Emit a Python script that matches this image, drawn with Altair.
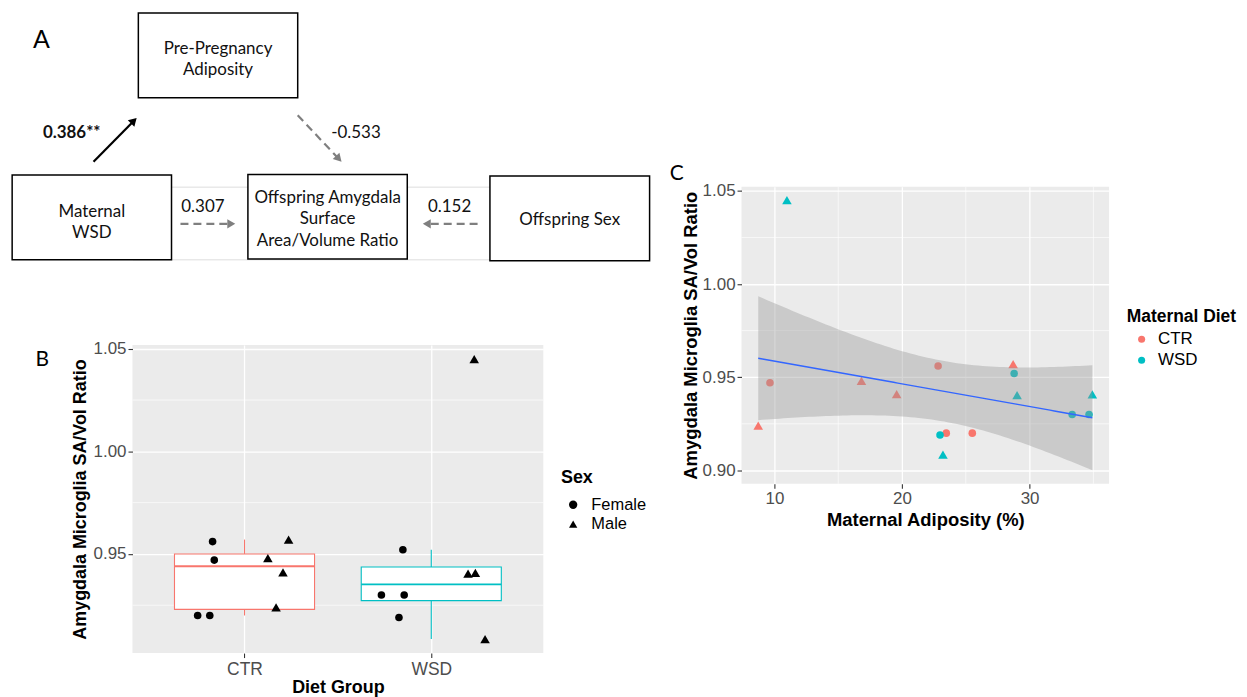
import math
import numpy as np
import pandas as pd
import altair as alt

# ------------------------------------------------------------------
# Values
# ------------------------------------------------------------------
diet_groups = ["CTR", "WSD"]
diet_colors = ["#F8766D", "#00BFC4"]
sexes = ["Female", "Male"]
sex_shapes = ["circle", "triangle-up"]
sex_point_sizes = [58, 92]

animal_diet = ["CTR"] * 8 + ["WSD"] * 8
animal_sex = (["Female"] * 4 + ["Male"] * 4) * 2
maternal_adiposity = [9.65, 22.83, 23.47, 25.51, 8.73, 16.82, 19.58, 28.71,
                      22.98, 28.79, 33.34, 34.66, 10.98, 23.21, 29.02, 34.92]
sa_vol_ratio = [0.947, 0.956, 0.920, 0.920, 0.924, 0.948, 0.941, 0.957,
                0.919, 0.952, 0.930, 0.930, 1.045, 0.9085, 0.9404, 0.9408]
# horizontal jitter of the points in panel B (group 1 = CTR, 2 = WSD)
jittered_group_pos = [0.838, 0.829, 0.749, 0.814, 1.169, 1.125, 1.206, 1.236,
                      1.827, 1.848, 1.733, 1.855, 2.230, 2.288, 2.197, 2.236]

b_y_ticks = [0.95, 1.00, 1.05]
b_y_minor = [0.925, 0.975, 1.025]
c_x_ticks = [10, 20, 30]
c_x_minor = [15, 25, 35]
c_y_ticks = [0.90, 0.95, 1.00, 1.05]
c_y_minor = [0.925, 0.975, 1.025]

# path model (panel A)
node_text = [["Pre-Pregnancy", "Adiposity"],
             ["Maternal", "WSD"],
             ["Offspring Amygdala", "Surface", "Area/Volume Ratio"],
             ["Offspring Sex"]]
path_coefs = ["0.386**", "-0.533", "0.307", "0.152"]
path_significant = [True, False, False, False]

# ------------------------------------------------------------------
# Layout (figure pixels) - positions only
# ------------------------------------------------------------------
FONT = "Liberation Sans"
DFONT = "Lato"

B_LEFT, B_TOP, B_W, B_H = 131.8, 344.0, 412.5, 309.3
C_LEFT, C_TOP, C_W, C_H = 743.3, 185.0, 369.0, 298.3
A_LEFT, A_TOP, A_W, A_H = B_LEFT, C_TOP, B_W, 73.0

node_box = [(137.7, 10.7, 297.7, 95.7), (11.0, 173.3, 171.0, 258.3),
            (247.7, 172.7, 407.7, 257.7), (490.7, 174.3, 651.0, 259.3)]
node_first_line = [(217.7, 46.7), (91.0, 210.0), (327.7, 196.7), (570.8, 219.0)]
LINE_H = 21.2
arrows = [(92.7, 160.0, 136.0, 116.0), (297.7, 113.3, 341.7, 160.0),
          (180.0, 222.3, 235.0, 222.3), (478.3, 222.3, 423.3, 222.3)]
coef_pos = [(70.8, 131.0), (356.2, 130.7), (202.5, 205.0), (450.2, 205.0)]
panel_letters = [("A", 40.5, 37.3, 25), ("B", 41.2, 359.0, 21), ("C", 678.3, 172.0, 21)]

# ------------------------------------------------------------------
# Panel A: path diagram
# ------------------------------------------------------------------
ax_scale = alt.Scale(domain=[A_LEFT, A_LEFT + A_W], nice=False, zero=False)
ay_scale = alt.Scale(domain=[A_TOP, A_TOP + A_H], nice=False, zero=False, reverse=True)

boxes_df = pd.DataFrame([{"x": b[0], "y": b[1], "x2": b[2], "y2": b[3]} for b in node_box])
txt_rows = []
for lines, (tx, ty) in zip(node_text, node_first_line):
    for i, line in enumerate(lines):
        txt_rows.append({"x": tx, "y": ty + i * LINE_H, "t": line})
txt_df = pd.DataFrame(txt_rows)

HEAD_SIZE = 85
head_h = math.sqrt(HEAD_SIZE) * math.sqrt(3) / 2
line_rows, head_rows = [], []
for (x0, y0, x1, y1), sig in zip(arrows, path_significant):
    L = math.hypot(x1 - x0, y1 - y0)
    ux, uy = (x1 - x0) / L, (y1 - y0) / L
    line_rows.append({"x": x0, "y": y0, "x2": x1 - ux * head_h * 0.7, "y2": y1 - uy * head_h * 0.7,
                      "sig": sig})
    ang = math.degrees(math.atan2(ux, -uy)) % 360
    head_rows.append({"x": x1 - ux * head_h / 2, "y": y1 - uy * head_h / 2, "angle": ang, "sig": sig})
lines_df = pd.DataFrame(line_rows)
heads_df = pd.DataFrame(head_rows)
coef_df = pd.DataFrame([{"x": p[0], "y": p[1], "t": t, "sig": s}
                        for p, t, s in zip(coef_pos, path_coefs, path_significant)])
letters_df = pd.DataFrame([{"t": l[0], "x": l[1], "y": l[2], "fs": l[3]} for l in panel_letters])

AX = alt.X("x:Q", scale=ax_scale, axis=None)
AY = alt.Y("y:Q", scale=ay_scale, axis=None)

a_boxes = alt.Chart(boxes_df).mark_rect(fill="white", stroke="black", strokeWidth=1.5).encode(
    x=AX, x2="x2:Q", y=AY, y2="y2:Q")
a_text = alt.Chart(txt_df).mark_text(font=DFONT, fontSize=17, align="center", baseline="middle",
                                     color="#111111").encode(x=AX, y=AY, text="t:N")
a_solid = alt.Chart(lines_df[lines_df.sig]).mark_rule(color="black", strokeWidth=2.2).encode(
    x=AX, y=AY, x2="x2:Q", y2="y2:Q")
a_dash = alt.Chart(lines_df[~lines_df.sig]).mark_rule(color="#7F7F7F", strokeWidth=2.2,
                                                     strokeDash=[8, 5]).encode(
    x=AX, y=AY, x2="x2:Q", y2="y2:Q")
a_head_solid = alt.Chart(heads_df[heads_df.sig]).mark_point(
    shape="triangle-up", filled=True, opacity=1, size=HEAD_SIZE, color="black").encode(
    x=AX, y=AY, angle=alt.Angle("angle:Q", scale=None))
a_head_dash = alt.Chart(heads_df[~heads_df.sig]).mark_point(
    shape="triangle-up", filled=True, opacity=1, size=HEAD_SIZE, color="#7F7F7F").encode(
    x=AX, y=AY, angle=alt.Angle("angle:Q", scale=None))
a_coef_bold = alt.Chart(coef_df[coef_df.sig]).mark_text(
    font=DFONT, fontSize=17, fontWeight="bold", align="center", baseline="middle", color="#111111").encode(
    x=AX, y=AY, text="t:N")
a_coef = alt.Chart(coef_df[~coef_df.sig]).mark_text(
    font=DFONT, fontSize=17, align="center", baseline="middle", color="#111111").encode(
    x=AX, y=AY, text="t:N")
a_letters = alt.Chart(letters_df).mark_text(font=DFONT, align="center", baseline="middle",
                                           color="black").encode(
    x=AX, y=AY, text="t:N", size=alt.Size("fs:Q", scale=None))

panel_a = alt.layer(a_boxes, a_solid, a_dash, a_head_solid, a_head_dash, a_text,
                    a_coef_bold, a_coef, a_letters).properties(width=A_W, height=A_H)

# ------------------------------------------------------------------
# Shared data for B and C
# ------------------------------------------------------------------
pts = pd.DataFrame({"diet": animal_diet, "sex": animal_sex, "adip": maternal_adiposity,
                    "ratio": sa_vol_ratio, "pos": jittered_group_pos})
point_size = alt.condition(alt.datum.sex == sexes[1], alt.value(sex_point_sizes[1]),
                           alt.value(sex_point_sizes[0]))


def axis_style(**kw):
    base = dict(domain=False, tickColor="#333333", tickSize=4.5, tickWidth=1.1,
                labelColor="#4D4D4D", labelFont=FONT, labelFontSize=17, labelPadding=2,
                gridColor="white", gridWidth=1.3, titleFont=FONT, titleFontSize=18,
                titleFontWeight="bold", titleColor="black")
    base.update(kw)
    return alt.Axis(**base)


def expanded(lo, hi, frac=0.05):
    r = hi - lo
    return [lo - frac * r, hi + frac * r]


# ------------------------------------------------------------------
# Panel B: box plot + jittered points
# ------------------------------------------------------------------
group_pos = list(range(1, len(diet_groups) + 1))
box_rows, whisk_rows = [], []
for g, p in zip(diet_groups, group_pos):
    v = np.array([r for r, d in zip(sa_vol_ratio, animal_diet) if d == g])
    q1, med, q3 = np.quantile(v, [0.25, 0.5, 0.75])
    iqr = q3 - q1
    lo = v[v >= q1 - 1.5 * iqr].min()
    hi = v[v <= q3 + 1.5 * iqr].max()
    box_rows.append({"group": g, "left": p - 0.375, "right": p + 0.375, "q1": q1, "q3": q3, "med": med})
    whisk_rows.append({"group": g, "pos": p, "ratio": q3, "ratio2": hi})
    whisk_rows.append({"group": g, "pos": p, "ratio": lo, "ratio2": q1})
box_df = pd.DataFrame(box_rows)
whisk_df = pd.DataFrame(whisk_rows)

b_xsc = alt.Scale(domain=[group_pos[0] - 0.6, group_pos[-1] + 0.6], nice=False, zero=False)
b_ysc = alt.Scale(domain=expanded(min(sa_vol_ratio), max(sa_vol_ratio)), nice=False, zero=False)
label_expr = "datum.value == 1 ? '%s' : '%s'" % (diet_groups[0], diet_groups[1])
b_xaxis = axis_style(values=group_pos, labelExpr=label_expr, title="Diet Group",
                     titleX=B_W / 2, titleY=39.5, titleAlign="center", titleBaseline="alphabetic",
                     titleAngle=0, labelFontSize=17.5, labelPadding=3)
b_yaxis = axis_style(values=b_y_ticks, format=".2f", title="Amygdala Microglia SA/Vol Ratio",
                     titleX=-46.8, titleY=B_H / 2, titleAngle=270, titleAlign="center",
                     titleBaseline="alphabetic")
diet_scale = alt.Scale(domain=diet_groups, range=diet_colors)

b_minor = alt.Chart(pd.DataFrame({"ratio": b_y_minor})).mark_rule(color="white", strokeWidth=0.65).encode(
    y=alt.Y("ratio:Q", scale=b_ysc, axis=b_yaxis))
b_whisk = alt.Chart(whisk_df).mark_rule(strokeWidth=1.1).encode(
    x=alt.X("pos:Q", scale=b_xsc, axis=b_xaxis), y=alt.Y("ratio:Q", scale=b_ysc, axis=b_yaxis),
    y2="ratio2:Q", color=alt.Color("group:N", scale=diet_scale, legend=None))
b_box = alt.Chart(box_df).mark_rect(fill="white", strokeWidth=1.1).encode(
    x=alt.X("left:Q", scale=b_xsc, axis=b_xaxis), x2="right:Q",
    y=alt.Y("q1:Q", scale=b_ysc, axis=b_yaxis), y2="q3:Q",
    stroke=alt.Stroke("group:N", scale=diet_scale, legend=None))
b_med = alt.Chart(box_df).mark_rule(strokeWidth=1.8).encode(
    x=alt.X("left:Q", scale=b_xsc, axis=b_xaxis), x2="right:Q",
    y=alt.Y("med:Q", scale=b_ysc, axis=b_yaxis),
    color=alt.Color("group:N", scale=diet_scale, legend=None))
b_pts = alt.Chart(pts).mark_point(filled=True, opacity=1, color="black").encode(
    x=alt.X("pos:Q", scale=b_xsc, axis=b_xaxis),
    y=alt.Y("ratio:Q", scale=b_ysc, axis=b_yaxis),
    shape=alt.Shape("sex:N", scale=alt.Scale(domain=sexes, range=sex_shapes),
                    legend=alt.Legend(title="Sex", orient="none", legendX=430.2, legendY=124.7,
                                      padding=0, titleFont=FONT, titleFontSize=18,
                                      titleFontWeight="bold", titleColor="black", titlePadding=9.4,
                                      labelFont=FONT, labelFontSize=16.5, labelColor="black",
                                      symbolSize=70, symbolFillColor="black", symbolStrokeColor="black",
                                      symbolOffset=4, labelOffset=10, rowPadding=2.5)),
    size=point_size)

panel_b = alt.layer(b_minor, b_whisk, b_box, b_med, b_pts).properties(
    width=B_W, height=B_H, view=alt.ViewBackground(fill="#EBEBEB", strokeWidth=0))

# ------------------------------------------------------------------
# Panel C: scatter + linear fit with 95% CI
# ------------------------------------------------------------------
xv = np.array(maternal_adiposity)
yv = np.array(sa_vol_ratio)
n = len(xv)
b1, b0 = np.polyfit(xv, yv, 1)
resid = yv - (b0 + b1 * xv)
s_err = math.sqrt(float(np.sum(resid ** 2)) / (n - 2))
xbar = xv.mean()
sxx = float(np.sum((xv - xbar) ** 2))
T_CRIT = 2.144787  # t(0.975, df = 14)
xs = np.linspace(xv.min(), xv.max(), 80)
fit = b0 + b1 * xs
se = s_err * np.sqrt(1.0 / n + (xs - xbar) ** 2 / sxx)
fit_df = pd.DataFrame({"adip": xs, "fit": fit, "lo": fit - T_CRIT * se, "hi": fit + T_CRIT * se})

c_xsc = alt.Scale(domain=expanded(xv.min(), xv.max()), nice=False, zero=False)
c_ysc = alt.Scale(domain=expanded(min(yv.min(), fit_df.lo.min()), max(yv.max(), fit_df.hi.max())),
                  nice=False, zero=False)
c_xaxis = axis_style(values=c_x_ticks, title="Maternal Adiposity (%)", titleX=C_W / 2, titleY=41.7,
                     titleAlign="center", titleBaseline="alphabetic", titleAngle=0, titleFontSize=18.5)
c_yaxis = axis_style(values=c_y_ticks, format=".2f", title="Amygdala Microglia SA/Vol Ratio",
                     titleX=-45.3, titleY=C_H / 2, titleAngle=270, titleAlign="center",
                     titleBaseline="alphabetic", titleFontSize=18.5)

c_minor_x = alt.Chart(pd.DataFrame({"adip": c_x_minor})).mark_rule(color="white", strokeWidth=0.65).encode(
    x=alt.X("adip:Q", scale=c_xsc, axis=c_xaxis))
c_minor_y = alt.Chart(pd.DataFrame({"ratio": c_y_minor})).mark_rule(color="white", strokeWidth=0.65).encode(
    y=alt.Y("ratio:Q", scale=c_ysc, axis=c_yaxis))
c_pts = alt.Chart(pts).mark_point(filled=True, opacity=1).encode(
    x=alt.X("adip:Q", scale=c_xsc, axis=c_xaxis),
    y=alt.Y("ratio:Q", scale=c_ysc, axis=c_yaxis),
    color=alt.Color("diet:N", scale=diet_scale,
                    legend=alt.Legend(title="Maternal Diet", orient="none", legendX=386.7, legendY=122,
                                      padding=0, titleFont=FONT, titleFontSize=17.5,
                                      titleFontWeight="bold", titleColor="black", titlePadding=5.3,
                                      labelFont=FONT, labelFontSize=17, labelColor="black",
                                      symbolType="circle", symbolSize=50, symbolOffset=6.5,
                                      labelOffset=8, rowPadding=3)),
    shape=alt.Shape("sex:N", scale=alt.Scale(domain=sexes, range=sex_shapes), legend=None),
    size=point_size)
c_band = alt.Chart(fit_df).mark_area(color="#999999", opacity=0.4).encode(
    x=alt.X("adip:Q", scale=c_xsc, axis=c_xaxis),
    y=alt.Y("lo:Q", scale=c_ysc, axis=c_yaxis), y2="hi:Q")
c_line = alt.Chart(fit_df).mark_line(color="#3366FF", strokeWidth=1.4).encode(
    x=alt.X("adip:Q", scale=c_xsc, axis=c_xaxis),
    y=alt.Y("fit:Q", scale=c_ysc, axis=c_yaxis))

panel_c = alt.layer(c_minor_x, c_minor_y, c_pts, c_band, c_line).properties(
    width=C_W, height=C_H, view=alt.ViewBackground(fill="#EBEBEB", strokeWidth=0))

# ------------------------------------------------------------------
# Assemble
# ------------------------------------------------------------------
left = alt.vconcat(panel_a, panel_b, spacing=B_TOP - A_TOP - A_H, bounds="flush").resolve_scale(
    color="independent", shape="independent", stroke="independent"
).resolve_legend(color="independent", shape="independent", stroke="independent")
chart = alt.hconcat(left, panel_c, spacing=C_LEFT - A_LEFT, bounds="flush").resolve_scale(
    color="independent", shape="independent", stroke="independent"
).resolve_legend(color="independent", shape="independent", stroke="independent").properties(
    padding={"left": 10, "top": 10, "right": 10, "bottom": 0}
).configure_view(strokeWidth=0).configure(font=FONT)

chart.save("out.html", embed_options={"renderer": "svg", "actions": False})
